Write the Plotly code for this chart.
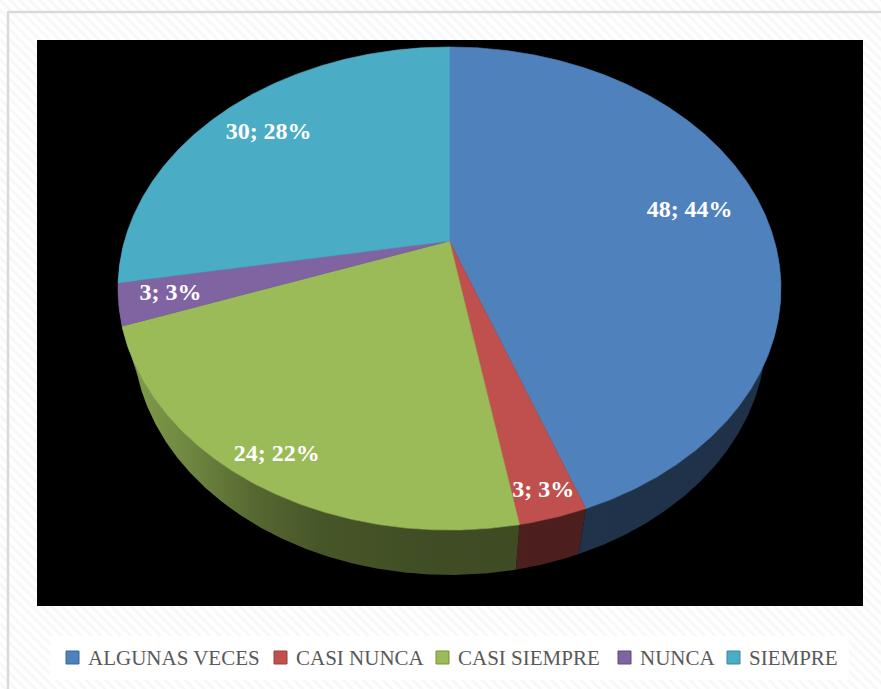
import math
import numpy as np
import plotly.graph_objects as go

# ---- data ----
categories = ["ALGUNAS VECES", "CASI NUNCA", "CASI SIEMPRE", "NUNCA", "SIEMPRE"]
values = [48, 3, 24, 3, 30]
top_colors = ["#4F81BD", "#C0504D", "#9BBB59", "#8064A2", "#4BACC6"]
edge_colors = ["#3A6496", "#94403D", "#76913F", "#5F4B7A", "#3A87A0"]

# radial position (fraction of radius) of each data label on the top face
label_radius = [0.77, 0.92, 0.90, 0.85, 0.80]

# ---- canvas (axis units are pixels) ----
W, H = 881, 689

# legend row: left edge of each key square, row centre, white box
legend_key_left = [66, 274, 436, 618, 727]
legend_y = 657.5
legend_box = (50, 849, 636, 680)

# ---- 3D pie camera ----
CX, CY = 449.5, 241.0          # screen position of the pie centre (top face)
FOCAL = 1156.0
DIST = 3.557
ALPHA = math.asin(0.7145)      # elevation of the camera
THICK = 0.225                  # pie thickness relative to radius
SA, CA = math.sin(ALPHA), math.cos(ALPHA)


def project(x, y, z):
    yc = y * CA - z * SA
    zc = DIST - y * SA - z * CA
    return CX + FOCAL * x / zc, CY - FOCAL * yc / zc


def rim(phi, r=1.0, y=0.0):
    """Screen point on the circle of radius r, angle phi measured clockwise from the back."""
    return project(r * np.sin(phi), y, -r * np.cos(phi))


def shade(hex_color, f):
    h = hex_color.lstrip("#")
    r, g, b = (int(h[i:i + 2], 16) for i in (0, 2, 4))
    return "rgb(%d,%d,%d)" % (r * f, g * f, b * f)


total = sum(values)
bounds = np.concatenate([[0.0], np.cumsum(values) / total * 2 * math.pi])

fig = go.Figure()

# textured chart-area background
fig.add_trace(go.Bar(
    x=[W / 2], y=[H], base=[0], width=[W],
    marker=dict(color="#ffffff", line_width=0,
                pattern=dict(shape="\\", fgcolor="#f0f0f0", bgcolor="#ffffff",
                             size=7, solidity=0.4)),
    hoverinfo="skip", showlegend=False,
))

# black plot area
fig.add_trace(go.Scatter(
    x=[37, 863, 863, 37, 37], y=[40, 40, 606, 606, 40],
    mode="lines", fill="toself", fillcolor="#000000", line=dict(width=0),
    hoverinfo="skip", showlegend=False,
))

# white legend panel
bx0, bx1, by0, by1 = legend_box
fig.add_trace(go.Scatter(
    x=[bx0, bx1, bx1, bx0, bx0], y=[by0, by0, by1, by1, by0],
    mode="lines", fill="toself", fillcolor="#ffffff", line=dict(width=0),
    hoverinfo="skip", showlegend=False,
))

# side walls (front half only), shaded from left to right
shade_stops = [(0.0, 0.85), (0.1, 0.72), (0.2, 0.56), (0.3, 0.46), (0.5, 0.41), (1.0, 0.38)]
x_left = rim(-math.pi / 2)[0]
x_right = rim(math.pi / 2)[0]
for i, cat in enumerate(categories):
    a0 = max(bounds[i], math.pi / 2)
    a1 = min(bounds[i + 1], 3 * math.pi / 2)
    if a1 <= a0:
        continue
    phis = np.linspace(a0, a1, max(4, int((a1 - a0) / 0.005)))
    tx, ty = rim(phis)
    bx, by = rim(phis[::-1], y=-THICK)
    xs = np.concatenate([tx, bx, tx[:1]])
    ys = np.concatenate([ty, by, ty[:1]])
    fig.add_trace(go.Scatter(
        x=xs, y=ys, mode="lines", fill="toself",
        line=dict(width=0),
        fillgradient=dict(type="horizontal", start=x_left, stop=x_right,
                          colorscale=[[p, shade(top_colors[i], f)] for p, f in shade_stops]),
        hoverinfo="skip", showlegend=False,
    ))

# top faces
cx0, cy0 = project(0, 0, 0)
for i, cat in enumerate(categories):
    a0, a1 = bounds[i], bounds[i + 1]
    phis = np.linspace(a0, a1, max(4, int((a1 - a0) / 0.005)))
    rx, ry = rim(phis)
    xs = np.concatenate([[cx0], rx, [cx0]])
    ys = np.concatenate([[cy0], ry, [cy0]])
    fig.add_trace(go.Scatter(
        x=xs, y=ys, mode="lines", fill="toself", fillcolor=top_colors[i],
        line=dict(width=0.6, color=top_colors[i]),
        hoverinfo="skip", showlegend=False,
    ))

# data labels "value; percent"
lx, ly, texts = [], [], []
for i, v in enumerate(values):
    mid = (bounds[i] + bounds[i + 1]) / 2
    px, py = rim(mid, r=label_radius[i])
    lx.append(px)
    ly.append(py)
    texts.append("%d; %d%%" % (v, round(100 * v / total)))
fig.add_trace(go.Scatter(
    x=lx, y=ly, mode="text", text=texts,
    textfont=dict(family="Liberation Serif", size=24, color="#ffffff", weight="bold"),
    hoverinfo="skip", showlegend=False,
))

# legend: coloured keys plus category names
fig.add_trace(go.Scatter(
    x=[k + 6.5 for k in legend_key_left], y=[legend_y] * len(categories),
    mode="markers",
    marker=dict(symbol="square", size=13, color=top_colors,
                line=dict(color=edge_colors, width=1)),
    hoverinfo="skip", showlegend=False,
))
annotations = [
    dict(x=k + 20, y=legend_y + 0.5, xref="x", yref="y", text=cat,
         showarrow=False, xanchor="left", yanchor="middle",
         font=dict(family="Liberation Serif", size=21, color="#595959"))
    for k, cat in zip(legend_key_left, categories)
]

fig.update_layout(
    width=W, height=H,
    margin=dict(l=0, r=0, t=0, b=0),
    paper_bgcolor="#ffffff", plot_bgcolor="#ffffff",
    xaxis=dict(range=[0, W], visible=False, fixedrange=True),
    yaxis=dict(range=[H, 0], visible=False, fixedrange=True),
    showlegend=False,
    hovermode=False,
    annotations=annotations,
    shapes=[
        dict(type="line", xref="x", yref="y", x0=8, x1=8, y0=11, y1=H,
             line=dict(color="#d9d9d9", width=2.5)),
        dict(type="line", xref="x", yref="y", x0=8, x1=W, y0=12, y1=12,
             line=dict(color="#d9d9d9", width=2.5)),
    ],
)

fig.write_html("out.html")
